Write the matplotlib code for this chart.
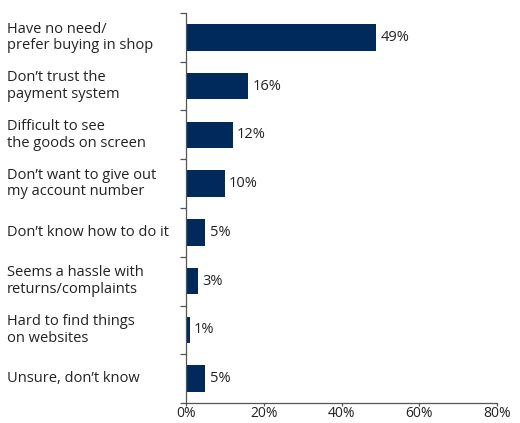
import matplotlib.pyplot as plt
import matplotlib.transforms as mtransforms
from matplotlib.ticker import FixedLocator, PercentFormatter

reasons = [
    "Have no need/\nprefer buying in shop",
    "Don\u2019t trust the\npayment system",
    "Difficult to see\nthe goods on screen",
    "Don\u2019t want to give out\nmy account number",
    "Don\u2019t know how to do it",
    "Seems a hassle with\nreturns/complaints",
    "Hard to find things\non websites",
    "Unsure, don\u2019t know",
]
shares = [49, 16, 12, 10, 5, 3, 1, 5]
x_ticks = [0, 20, 40, 60, 80]

navy = "#002a5c"
plt.rcParams["font.family"] = ["Open Sans", "DejaVu Sans"]

fig = plt.figure(figsize=(5.2, 4.23), dpi=100)
ax = fig.add_axes([186 / 520, 20 / 423, 311 / 520, 390 / 423])

n = len(reasons)
pos = list(range(n))
ax.barh(pos, shares, height=0.54, color=navy)

ax.set_xlim(0, 80)
ax.set_ylim(n - 0.5, -0.5)

for spine in ["top", "right"]:
    ax.spines[spine].set_visible(False)
for spine in ["left", "bottom"]:
    ax.spines[spine].set_color("#555555")
    ax.spines[spine].set_linewidth(0.9)

ax.xaxis.set_major_locator(FixedLocator(x_ticks))
ax.xaxis.set_major_formatter(PercentFormatter(decimals=0))
ax.tick_params(axis="x", length=2.5, width=0.9, color="#555555",
               labelsize=10, pad=0, labelcolor="#222222")

# ticks between categories, labels drawn separately
ax.yaxis.set_major_locator(FixedLocator([i - 0.5 for i in range(n + 1)]))
ax.set_yticklabels([])
ax.tick_params(axis="y", length=4, width=0.9, color="#555555")

# category labels, left aligned at the figure edge
trans = mtransforms.blended_transform_factory(fig.transFigure, ax.transData)
for i, lab in enumerate(reasons):
    ax.text(7 / 520, i, lab, transform=trans, ha="left", va="center",
            fontsize=10.5, color="#222222", linespacing=1.15, clip_on=False)

for i, v in enumerate(shares):
    ax.annotate(f"{v}%", (v, i), xytext=(3, 0), textcoords="offset points",
                ha="left", va="center", fontsize=10.5, color="#222222")

fig.savefig("out.png", dpi=100)
